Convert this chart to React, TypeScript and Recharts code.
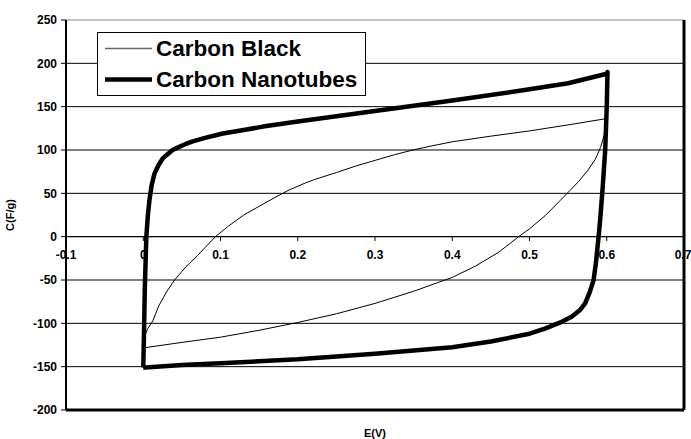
import React from 'react'
import { LineChart, Line, XAxis, YAxis, CartesianGrid, ReferenceLine, ReferenceDot } from 'recharts'

// Carbon Black (thin loop): lower branch left->right, then upper branch right->left
const blackE = [0.003, 0.05, 0.1, 0.15, 0.2, 0.25, 0.3, 0.35, 0.4, 0.43, 0.46, 0.486, 0.5, 0.52, 0.54, 0.552, 0.564, 0.575, 0.585, 0.592, 0.597,
  0.598, 0.55, 0.5, 0.45, 0.4, 0.375, 0.349, 0.325, 0.3, 0.275, 0.25, 0.222, 0.21, 0.189, 0.168, 0.15, 0.13, 0.11, 0.0935, 0.07, 0.055,
  0.0405, 0.03, 0.02, 0.0125, 0.006, 0.003]
const blackC = [-128, -122, -116, -108, -99, -89, -77, -63, -47, -34, -18, 0, 9, 24, 42, 53, 64, 76, 89, 103, 118,
  136, 129, 122, 116, 109.5, 105, 100, 94.5, 88, 81.5, 74, 66, 62, 54, 44, 35, 25, 12, 0, -22, -35,
  -50, -64, -80, -97, -106, -112]

// Carbon Nanotubes (thick loop): left edge up, upper branch, right edge down, lower branch back
const tubesE = [0, 0.001, 0.002, 0.004, 0.006, 0.008, 0.011, 0.0146, 0.02, 0.025, 0.03, 0.038, 0.045, 0.055, 0.064, 0.08, 0.103, 0.13, 0.155, 0.2,
  0.3, 0.4, 0.5, 0.55, 0.6, 0.601, 0.6, 0.598, 0.595, 0.592, 0.59, 0.586, 0.583, 0.578, 0.572, 0.565, 0.555, 0.54, 0.52, 0.5, 0.45, 0.4,
  0.3, 0.2, 0.1, 0.05, 0.003, 0]
const tubesC = [-151, -110, -60, 0, 25, 42, 60, 73, 83, 90, 94, 100, 103, 107, 110, 114, 119, 123, 127, 133,
  145, 157, 170, 177, 188, 190, 150, 100, 60, 25, 5, -30, -50, -64, -77, -85, -92, -99, -106, -112, -121, -127.5,
  -135, -141.5, -146, -148, -151, -151]

const xTicks = [-0.1, 0, 0.1, 0.2, 0.3, 0.4, 0.5, 0.6, 0.7]
const yTicks = [-200, -150, -100, -50, 0, 50, 100, 150, 200, 250]
const gridValues = [-150, -100, -50, 0, 50, 100, 150, 200]

const blackData = blackE.map((x, i) => ({ x, y: blackC[i] }))
const tubesData = tubesE.map((x, i) => ({ x, y: tubesC[i] }))

const font = '"Liberation Sans", Arial, sans-serif'
const tickFont = { fill: '#000', fontSize: 12, fontWeight: 'bold', fontFamily: font }

function LegendBox() {
  const rows = [
    { name: 'Carbon Black', w: 1.5, color: '#666' },
    { name: 'Carbon Nanotubes', w: 4.5, color: '#000' },
  ]
  return (
    <div style={{
      position: 'absolute', left: 97, top: 32, width: 267, height: 62,
      border: '1px solid #000', background: '#fff',
      fontFamily: font, fontWeight: 'bold', fontSize: 22.5, color: '#000'
    }}>
      {rows.map(r => (
        <div key={r.name} style={{ height: 31, display: 'flex', alignItems: 'center', paddingLeft: 7 }}>
          <svg width={47} height={31} style={{ display: 'block' }}>
            <line x1={0} x2={47} y1={15.5} y2={15.5} stroke={r.color} strokeWidth={r.w} />
          </svg>
          <span style={{ marginLeft: 4, whiteSpace: 'nowrap' }}>{r.name}</span>
        </div>
      ))}
    </div>
  )
}

export default function App() {
  return (
    <div style={{ position: 'absolute', left: 0, top: 0, width: 691, height: 439, background: '#fff' }}>
      <LineChart width={691} height={439} margin={{ top: 20, right: 7, bottom: 0, left: 0 }}>
        <CartesianGrid vertical={false} horizontalValues={gridValues} stroke="#000" strokeDasharray="" />
        <XAxis
          dataKey="x" type="number" domain={[-0.1, 0.7]} allowDataOverflow ticks={xTicks}
          tick={false} tickLine={false} axisLine={false} height={29}
          label={{ value: 'E(V)', position: 'insideBottom', offset: 2, style: { fontWeight: 'bold', fontSize: 11, fill: '#000', fontFamily: font } }}
        />
        <YAxis
          type="number" domain={[-200, 250]} ticks={yTicks} interval={0} width={66}
          tick={tickFont} tickSize={5} tickMargin={4}
          tickLine={{ stroke: '#000' }} axisLine={{ stroke: '#000', strokeWidth: 2 }}
          label={{ value: 'C(F/g)', angle: -90, position: 'insideLeft', offset: 10, style: { textAnchor: 'middle', fontWeight: 'bold', fontSize: 11, fill: '#000', fontFamily: font } }}
        />
        <ReferenceLine y={250} stroke="#888" />
        <ReferenceLine y={0} stroke="#000" />
        {xTicks.map(v => (
          <ReferenceLine key={'t' + v} segment={[{ x: v, y: 0 }, { x: v, y: -5 }]} stroke="#000" />
        ))}
        {xTicks.map((v, i) => (
          <ReferenceDot key={'l' + v} x={v} y={0} r={0} fill="none" stroke="none"
            label={{ value: String(v), position: 'bottom', offset: 14, dx: i === xTicks.length - 1 ? -1 : 0, ...tickFont }} />
        ))}
        <Line data={blackData} dataKey="y" type="linear" stroke="#000" strokeWidth={1} dot={false} isAnimationActive={false} />
        <Line data={tubesData} dataKey="y" type="linear" stroke="#000" strokeWidth={4.5} strokeLinejoin="round" dot={false} isAnimationActive={false} />
        <ReferenceLine x={0.7} stroke="#000" strokeWidth={3} />
        <ReferenceLine y={-200} stroke="#000" strokeWidth={3} />
      </LineChart>
      <LegendBox />
    </div>
  )
}
